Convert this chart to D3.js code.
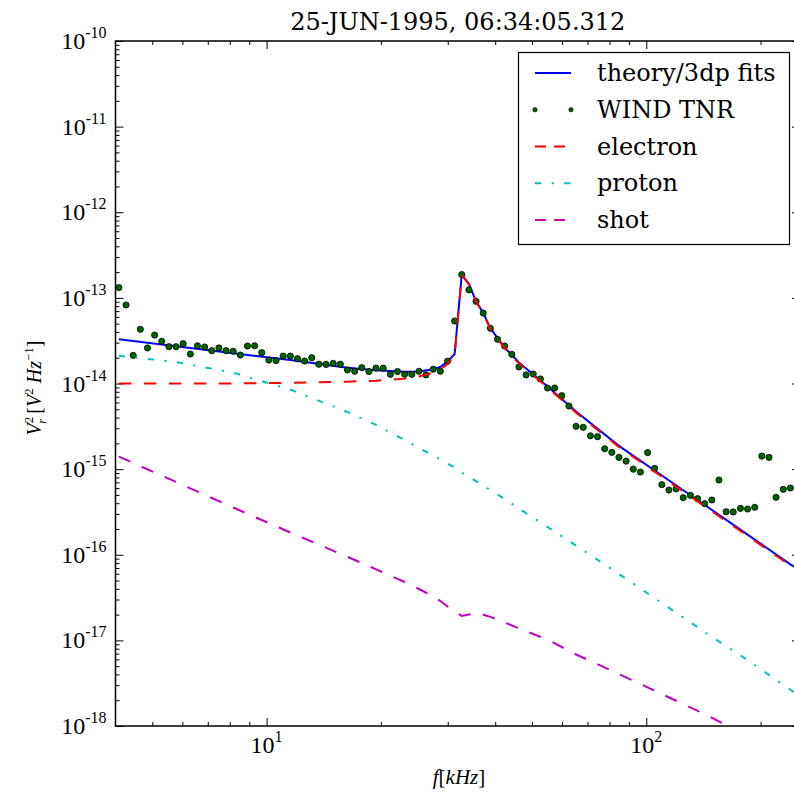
<!DOCTYPE html>
<html lang="en">
    <head>
        <meta charset="utf-8">
        <title>WIND TNR spectrum</title>
        <script type="text/javascript" src="https://d3js.org/d3.v7.min.js"></script>
        <style type="text/css">
            body { margin: 0; background: #fff; }
            svg { display: block; }
        </style>
    </head>
    <body>
        <script type="text/javascript">

        //Data - WIND TNR channels (kHz) and measured power
        const tnrFreq = [
            4.083, 4.264, 4.453, 4.650, 4.856, 5.071, 5.295, 5.530, 5.775, 6.030, 6.297, 6.576, 6.867, 7.171, 7.489, 7.820,
            8.166, 8.528, 8.906, 9.300, 9.712, 10.14, 10.59, 11.06, 11.55, 12.06, 12.59, 13.15, 13.73, 14.34, 14.98, 15.64,
            16.33, 17.06, 17.81, 18.60, 19.42, 20.28, 21.18, 22.12, 23.10, 24.12, 25.19, 26.30, 27.47, 28.68, 29.96, 31.28,
            32.66, 34.11, 35.62, 37.20, 38.85, 40.57, 42.36, 44.24, 46.20, 48.24, 50.38, 52.61, 54.94, 57.37, 59.91, 62.56,
            65.33, 68.22, 71.25, 74.40, 77.70, 81.14, 84.72, 88.48, 92.40, 96.48, 100.8, 105.2, 109.9, 114.7, 119.8, 125.1,
            130.7, 136.5, 142.5, 148.8, 155.4, 162.3, 169.4, 177.0, 184.8, 193.0, 201.5, 210.4, 219.7, 229.5, 239.6
        ];
        const tnrPower = [
            1.32e-13, 8.26e-14, 2.13e-14, 4.30e-14, 2.60e-14, 3.68e-14, 3.11e-14, 2.69e-14, 2.69e-14, 2.92e-14, 2.21e-14, 2.76e-14, 2.67e-14, 2.42e-14, 2.60e-14, 2.42e-14,
            2.38e-14, 2.15e-14, 2.74e-14, 2.76e-14, 2.29e-14, 1.88e-14, 1.85e-14, 2.09e-14, 2.09e-14, 1.95e-14, 1.83e-14, 2.00e-14, 1.68e-14, 1.67e-14, 1.72e-14, 1.68e-14,
            1.44e-14, 1.39e-14, 1.53e-14, 1.38e-14, 1.51e-14, 1.51e-14, 1.28e-14, 1.38e-14, 1.28e-14, 1.28e-14, 1.39e-14, 1.26e-14, 1.47e-14, 1.39e-14, 1.82e-14, 5.37e-14,
            1.87e-13, 1.24e-13, 9.12e-14, 6.65e-14, 4.41e-14, 3.28e-14, 2.74e-14, 2.19e-14, 1.56e-14, 1.26e-14, 1.29e-14, 1.13e-14, 8.86e-15, 8.86e-15, 7.21e-15, 5.46e-15,
            3.16e-15, 3.08e-15, 2.45e-15, 2.39e-15, 1.73e-15, 1.57e-15, 1.37e-15, 1.24e-15, 1.00e-15, 9.25e-16, 1.56e-15, 1.02e-15, 6.58e-16, 5.70e-16, 5.86e-16, 4.64e-16,
            4.94e-16, 4.52e-16, 3.95e-16, 4.36e-16, 7.46e-16, 3.18e-16, 3.16e-16, 3.48e-16, 3.42e-16, 3.58e-16, 1.42e-15, 1.37e-15, 4.69e-16, 5.81e-16, 6.02e-16
        ];

        //Model curves (kHz) and their components
        const modelFreq = [4.083, 5.775, 8.166, 11.55, 16.33, 19.42, 23.10, 25.19, 27.47, 28.68, 29.96, 31.28, 32.66, 34.11,
                           35.62, 37.20, 38.85, 40.57, 42.36, 46.20, 54.94, 65.33, 84.72, 109.9, 142.5, 184.8, 239.6, 250];
        const theory = [3.28e-14, 2.73e-14, 2.26e-14, 1.88e-14, 1.53e-14, 1.43e-14, 1.37e-14, 1.38e-14, 1.47e-14, 1.56e-14, 1.80e-14, 2.21e-14, 1.88e-13, 1.45e-13,
                        9.12e-14, 6.65e-14, 4.41e-14, 3.40e-14, 2.63e-14, 1.76e-14, 9.23e-15, 4.70e-15, 1.87e-15, 8.43e-16, 3.81e-16, 1.72e-16, 7.73e-17, 6.84e-17];
        const electron = [1.00e-14, 1.00e-14, 1.00e-14, 1.02e-14, 1.05e-14, 1.08e-14, 1.14e-14, 1.21e-14, 1.34e-14, 1.46e-14, 1.69e-14, 2.12e-14, 1.86e-13, 1.44e-13,
                          9.03e-14, 6.58e-14, 4.35e-14, 3.35e-14, 2.58e-14, 1.72e-14, 9.00e-15, 4.57e-15, 1.81e-15, 8.15e-16, 3.68e-16, 1.66e-16, 7.47e-17, 6.61e-17];
        const proton = [2.11e-14, 1.78e-14, 1.34e-14, 8.49e-15, 4.65e-15, 3.28e-15, 2.19e-15, 1.77e-15, 1.44e-15, 1.30e-15, 1.16e-15, 1.04e-15, 9.08e-16, 8.13e-16,
                        7.23e-16, 6.44e-16, 5.70e-16, 5.06e-16, 4.48e-16, 3.47e-16, 2.11e-16, 1.28e-16, 5.96e-17, 2.73e-17, 1.25e-17, 5.90e-18, 2.65e-18, 2.36e-18];
        const shot = [1.40e-15, 7.08e-16, 3.56e-16, 1.82e-16, 9.46e-17, 6.76e-17, 4.81e-17, 3.98e-17, 3.25e-17, 2.88e-17, 2.49e-17, 2.17e-17, 1.93e-17, 2.00e-17,
                      2.06e-17, 1.99e-17, 1.88e-17, 1.75e-17, 1.62e-17, 1.38e-17, 1.02e-17, 6.84e-18, 4.05e-18, 2.36e-18, 1.38e-18, 7.64e-19, 4.84e-19, 4.50e-19];

        //Ticks and text
        const xMajor = [10, 100];
        const xMinor = [5, 6, 7, 8, 9, 20, 30, 40, 50, 60, 70, 80, 90, 200];
        const yExponents = [-18, -17, -16, -15, -14, -13, -12, -11, -10];
        const legendLabels = ["theory/3dp fits", "WIND TNR", "electron", "proton", "shot"];
        const title = "25-JUN-1995, 06:34:05.312";

        //Layout
        const width = 794, height = 793;
        const mLeft = 115.5, mRight = 800, mTop = 41, mBottom = 726;
        const serif = "'DejaVu Serif', serif";
        const tickFont = "'Liberation Serif', serif";

        const xScale = d3.scaleLog().domain([4, 254]).range([mLeft, mRight]);
        const yScale = d3.scaleLog().domain([1e-18, 1e-10]).range([mBottom, mTop]);

        const yMajor = yExponents.map(e => Math.pow(10, e));
        const yMinor = [];
        yExponents.slice(0, -1).forEach(e => {
            for (let k = 2; k <= 9; k++) yMinor.push(k * Math.pow(10, e));
        });

        const svg = d3.select("body")
                    .append("svg")
                    .attr("width", width)
                    .attr("height", height);

        svg.append("defs").append("clipPath").attr("id", "plot")
            .append("rect")
            .attr("x", mLeft).attr("y", mTop)
            .attr("width", mRight - mLeft).attr("height", mBottom - mTop);

        //Axes - ticks pointing inward on all four sides
        function ticks(axis, vals, size, transform) {
            const g = svg.append("g")
                .attr("transform", transform)
                .call(axis.tickValues(vals).tickSizeInner(-size).tickSizeOuter(0).tickFormat(""));
            g.select(".domain").remove();
            g.selectAll("line").attr("stroke", "#000").attr("stroke-width", 1);
        }
        ticks(d3.axisBottom(xScale), xMajor, 8, "translate(0," + mBottom + ")");
        ticks(d3.axisBottom(xScale), xMinor, 4, "translate(0," + mBottom + ")");
        ticks(d3.axisTop(xScale), xMajor, 8, "translate(0," + mTop + ")");
        ticks(d3.axisTop(xScale), xMinor, 4, "translate(0," + mTop + ")");
        ticks(d3.axisLeft(yScale), yMajor, 8, "translate(" + mLeft + ",0)");
        ticks(d3.axisLeft(yScale), yMinor, 4, "translate(" + mLeft + ",0)");
        ticks(d3.axisRight(yScale), yMajor, 8, "translate(" + mRight + ",0)");
        ticks(d3.axisRight(yScale), yMinor, 4, "translate(" + mRight + ",0)");

        //Tick labels 10^n
        yExponents.forEach(e => {
            const t = svg.append("text")
                .attr("x", mLeft - 9)
                .attr("y", yScale(Math.pow(10, e)) + 8)
                .attr("text-anchor", "end")
                .style("font-family", tickFont)
                .style("font-size", "24px");
            t.append("tspan").text("10");
            t.append("tspan").attr("dy", -11).style("font-size", "16px").text(String(e));
        });
        xMajor.forEach(v => {
            const t = svg.append("text")
                .attr("x", xScale(v))
                .attr("y", mBottom + 27)
                .attr("text-anchor", "middle")
                .style("font-family", tickFont)
                .style("font-size", "24px");
            t.append("tspan").text("10");
            t.append("tspan").attr("dy", -11).style("font-size", "16px").text(Math.round(Math.log10(v)));
        });

        //Lines
        const plot = svg.append("g").attr("clip-path", "url(#plot)");
        const line = d3.line().x(d => xScale(d[0])).y(d => yScale(d[1]));
        const series = [
            {vals: theory, color: "#0000ff", dash: null, legendDash: null},
            {vals: electron, color: "#ff0000", dash: "12.5,12.5", legendDash: "11,8"},
            {vals: proton, color: "#00bfbf", dash: "6.25,10.4,2.1,10.4", legendDash: "6.25,10.4,2.1,10.4"},
            {vals: shot, color: "#bf00bf", dash: "12.5,12.5", legendDash: "11,8"}
        ];

        plot.append("path")
            .attr("d", line(modelFreq.map((f, i) => [f, theory[i]])))
            .attr("fill", "none")
            .attr("stroke", series[0].color)
            .attr("stroke-width", 2);

        plot.selectAll("circle")
            .data(tnrFreq.map((f, i) => [f, tnrPower[i]]))
            .enter()
            .append("circle")
            .attr("cx", d => xScale(d[0]))
            .attr("cy", d => yScale(d[1]))
            .attr("r", 3.1)
            .attr("fill", "#006400")
            .attr("stroke", "#000")
            .attr("stroke-width", 0.8);

        series.slice(1).forEach(s => {
            plot.append("path")
                .attr("d", line(modelFreq.map((f, i) => [f, s.vals[i]])))
                .attr("fill", "none")
                .attr("stroke", s.color)
                .attr("stroke-width", 2)
                .attr("stroke-dasharray", s.dash);
        });

        //Frame
        svg.append("rect")
            .attr("x", mLeft).attr("y", mTop)
            .attr("width", mRight - mLeft).attr("height", mBottom - mTop)
            .attr("fill", "none")
            .attr("stroke", "#000")
            .attr("stroke-width", 1.5);

        //Title and axis labels
        svg.append("text")
            .attr("x", (mLeft + mRight) / 2)
            .attr("y", 30)
            .attr("text-anchor", "middle")
            .style("font-family", serif)
            .style("font-size", "24px")
            .text(title);

        const xl = svg.append("text")
            .attr("x", 459)
            .attr("y", 784)
            .attr("text-anchor", "middle")
            .style("font-family", tickFont)
            .style("font-size", "21px");
        xl.append("tspan").style("font-style", "italic").text("f");
        xl.append("tspan").text("[");
        xl.append("tspan").style("font-style", "italic").text("kHz");
        xl.append("tspan").text("]");

        const yl = svg.append("text")
            .attr("transform", "translate(41,388) rotate(-90)")
            .attr("text-anchor", "middle")
            .style("font-family", tickFont)
            .style("font-size", "20px");
        yl.append("tspan").style("font-style", "italic").text("V");
        yl.append("tspan").attr("dy", -8).style("font-size", "13px").text("2");
        yl.append("tspan").attr("dx", -7).attr("dy", 13).style("font-size", "13px").style("font-style", "italic").text("r");
        yl.append("tspan").attr("dy", -5).text(" [");
        yl.append("tspan").style("font-style", "italic").text("V");
        yl.append("tspan").attr("dy", -8).style("font-size", "13px").text("2");
        yl.append("tspan").attr("dy", 8).style("font-style", "italic").text(" Hz");
        yl.append("tspan").attr("dy", -8).style("font-size", "13px").text("\u22121");
        yl.append("tspan").attr("dy", 8).text("]");

        //Legend
        const lg = svg.append("g");
        lg.append("rect")
            .attr("x", 518.5).attr("y", 52.5)
            .attr("width", 271).attr("height", 192)
            .attr("fill", "#fff")
            .attr("stroke", "#000")
            .attr("stroke-width", 1.2);

        const rowY = d3.scalePoint().domain(legendLabels).range([73, 220]);
        const legendStyle = [series[0], null, series[1], series[2], series[3]];
        legendLabels.forEach((lab, i) => {
            const yy = rowY(lab);
            const s = legendStyle[i];
            if (s) {
                lg.append("line")
                    .attr("x1", 535).attr("x2", 571)
                    .attr("y1", yy).attr("y2", yy)
                    .attr("stroke", s.color)
                    .attr("stroke-width", 2)
                    .attr("stroke-dasharray", s.legendDash);
            } else {
                [535, 571].forEach(cx => {
                    lg.append("circle")
                        .attr("cx", cx).attr("cy", yy).attr("r", 2.2)
                        .attr("fill", "#006400").attr("stroke", "#000").attr("stroke-width", 0.6);
                });
            }
            lg.append("text")
                .attr("x", 597)
                .attr("y", yy + 8)
                .style("font-family", serif)
                .style("font-size", "24px")
                .text(lab);
        });

        </script>
    </body>
</html>
